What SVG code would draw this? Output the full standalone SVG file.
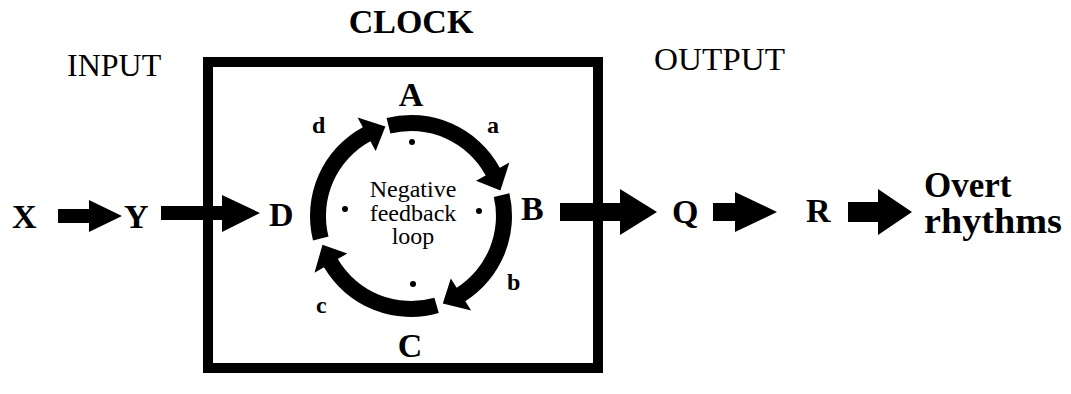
<svg xmlns="http://www.w3.org/2000/svg" width="1071" height="394" viewBox="0 0 1071 394" font-family="'Liberation Serif', 'Times New Roman', Times, serif">
<style>
text{font-family:'Liberation Serif','Times New Roman',Times,serif;fill:#000}
.big{font-size:34px;font-weight:bold}
.ov{font-size:35px;font-weight:bold}
.hdr{font-size:32px}
.sm{font-size:24px;font-weight:bold}
.loop{font-size:24px}
.arr{fill:#000}
</style>
<rect width="1071" height="394" fill="#fff"/>
<g id="labels">
<text x="411" y="33" text-anchor="middle" class="big">CLOCK</text>
<text x="67" y="76" class="hdr">INPUT</text>
<text x="654" y="70" class="hdr" textLength="131" lengthAdjust="spacingAndGlyphs">OUTPUT</text>
</g>
<g id="clock-box">
<rect x="208" y="62" width="390" height="306" fill="none" stroke="#000" stroke-width="10"/>
</g>
<g id="connectors">
<polygon class="arr" points="58,209 89,209 89,200 122,216 89,232 89,223 58,223"/>
<polygon class="arr" points="161,206 222,206 222,195 260,213 222,232 222,220 161,220"/>
<polygon class="arr" points="560,203 620,203 620,189 657,212 620,235 620,221 560,221"/>
<polygon class="arr" points="713,203 735,203 735,192 777,212 735,232 735,221 713,221"/>
<polygon class="arr" points="848,202 878,202 878,189 912,212 878,235 878,222 848,222"/>
<path id="arc-a" class="arr" d="M386.6,118 A101,101 0 0 1 499.8,167.8 L509.4,162.6 L500.4,190.4 L476,180.7 L485.7,175.4 A85,85 0 0 0 390.4,133.5 Z"/>
<path id="arc-b" class="arr" d="M509.4,193.3 A101,101 0 0 1 465.3,301.2 L471.2,310.5 L442.8,303.4 L450.8,278.4 L456.7,287.7 A85,85 0 0 0 493.8,196.9 Z"/>
<path id="arc-c" class="arr" d="M438.8,313.1 A101,101 0 0 1 324,267.3 L314.5,272.8 L322.5,244.7 L347.2,253.6 L337.8,259.1 A85,85 0 0 0 434.4,297.7 Z"/>
<path id="arc-d" class="arr" d="M313,240.4 A101,101 0 0 1 362.8,127.2 L357.6,117.6 L385.4,126.6 L375.7,151 L370.4,141.3 A85,85 0 0 0 328.5,236.6 Z"/>
</g>
<g id="node-X"><text x="12" y="228" class="big">X</text></g>
<g id="node-Y"><text x="124" y="228" class="big">Y</text></g>
<g id="node-D"><text x="269" y="226" class="big">D</text></g>
<g id="node-B"><text x="521" y="220" class="big">B</text></g>
<g id="node-Q"><text x="672" y="223" class="big">Q</text></g>
<g id="node-R"><text x="806" y="222" class="big">R</text></g>
<g id="node-overt"><text x="924" y="197" class="ov">Overt</text><text x="924" y="233" class="ov" textLength="138" lengthAdjust="spacingAndGlyphs">rhythms</text></g>
<g id="node-A"><text x="411" y="106" text-anchor="middle" class="big">A</text></g>
<g id="node-C"><text x="410" y="357" text-anchor="middle" class="big">C</text></g>
<g id="edge-labels">
<text x="487" y="133" class="sm">a</text>
<text x="507" y="290" class="sm">b</text>
<text x="316" y="313" class="sm">c</text>
<text x="312" y="133" class="sm">d</text>
</g>
<g id="loop">
<text x="413" y="197" text-anchor="middle" class="loop">Negative</text>
<text x="413" y="221" text-anchor="middle" class="loop">feedback</text>
<text x="413" y="244" text-anchor="middle" class="loop">loop</text>
<circle cx="412" cy="142" r="3"/>
<circle cx="345" cy="209" r="3"/>
<circle cx="479" cy="211" r="3"/>
<circle cx="413" cy="284" r="3"/>
</g>
</svg>
